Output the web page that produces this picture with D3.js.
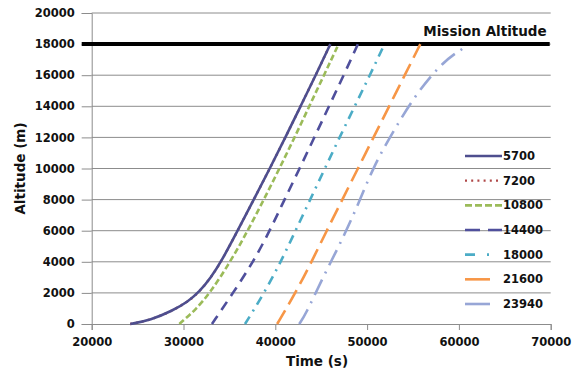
<!DOCTYPE html>
<html>
<head>
<meta charset="utf-8">
<script src="https://cdn.jsdelivr.net/npm/d3@7"></script>
<style>
  html, body { margin: 0; padding: 0; background: #fff; }
  svg { display: block; }
  text { font-family: "DejaVu Sans", "Liberation Sans", sans-serif; }
</style>
</head>
<body>
<svg id="chart" width="577" height="370"></svg>
<script>
// ---- data ----
const categories = ["5700", "7200", "10800", "14400", "18000", "21600", "23940"];

const time5700  = [24200, 26400, 28800, 30500, 31700, 33000, 34100, 35900, 37650, 39400, 41100, 42750, 44400, 46000];
const alt5700   = [0, 250, 850, 1450, 2050, 3000, 4000, 6000, 8000, 10000, 12000, 14000, 16000, 18000];

const time7200  = [24200, 26400, 28800, 30500, 31700, 33000, 34100, 35900, 37650, 39400, 41100, 42750, 44400, 46000];
const alt7200   = [0, 250, 850, 1450, 2050, 3000, 4000, 6000, 8000, 10000, 12000, 14000, 16000, 18000];

const time10800 = [29550, 30400, 31270, 32900, 35100, 37000, 38750, 40450, 42100, 43700, 45300, 46900];
const alt10800  = [0, 450, 900, 2000, 4000, 6000, 8000, 10000, 12000, 14000, 16000, 18000];

const time14400 = [33100, 35400, 37600, 39400, 41000, 42650, 44250, 45850, 47450, 49000];
const alt14400  = [0, 2000, 4000, 6000, 8000, 10000, 12000, 14000, 16000, 18000];

const time18000 = [36700, 38800, 40600, 42200, 43800, 45400, 47000, 48650, 50300, 51900];
const alt18000  = [0, 2000, 4000, 6000, 8000, 10000, 12000, 14000, 16000, 18000];

const time21600 = [40200, 42200, 43950, 45600, 47300, 49000, 50700, 52400, 54100, 55800];
const alt21600  = [0, 2000, 4000, 6000, 8000, 10000, 12000, 14000, 16000, 18000];

const time23940 = [42600, 43300, 45100, 47100, 48900, 50700, 53000, 55400, 58300, 60400];
const alt23940  = [0, 600, 2900, 5200, 7500, 10150, 12550, 14850, 16900, 17700];

const xTicks = [20000, 30000, 40000, 50000, 60000, 70000];
const yTicks = [0, 2000, 4000, 6000, 8000, 10000, 12000, 14000, 16000, 18000, 20000];
const missionAltitude = 18000;
const missionLabel = "Mission Altitude";
const xTitle = "Time (s)";
const yTitle = "Altitude (m)";

// ---- styles (kept separate from data) ----
const styles = {
  "5700":  { color: "#4e4e8e", dash: null,       legendDash: null,          width: 2.6 },
  "7200":  { color: "#b04848", dash: "2,4",      legendDash: "2,4.2",       width: 2.4 },
  "10800": { color: "#9bbb59", dash: "6,3",      legendDash: "7,3",         width: 2.6 },
  "14400": { color: "#4f4f9c", dash: "10,7",     legendDash: "15,8",        width: 2.6 },
  "18000": { color: "#4bacc6", dash: "9,6,2,6",  legendDash: "10,12,2,20",  width: 2.6 },
  "21600": { color: "#f79646", dash: "16,7",     legendDash: "25,20",       width: 2.6 },
  "23940": { color: "#97a6d6", dash: "17,7,2,7", legendDash: "25,20",       width: 2.6 }
};

const seriesTimes = [time5700, time7200, time10800, time14400, time18000, time21600, time23940];
const seriesAlts  = [alt5700, alt7200, alt10800, alt14400, alt18000, alt21600, alt23940];
const series = categories.map((c, i) => ({
  name: c,
  points: seriesTimes[i].map((t, j) => ({ t: t, a: seriesAlts[i][j] }))
}));

// ---- layout ----
const svg = d3.select("#chart");
const m = { left: 91.7, right: 26.3, top: 13, bottom: 46 };
const W = 577, H = 370;

const x = d3.scaleLinear().domain([20000, 70000]).range([m.left, W - m.right]);
const y = d3.scaleLinear().domain([0, 20000]).range([H - m.bottom, m.top]);

const tickFont = { size: "11.5px", weight: "bold" };

// gridlines
svg.append("g")
  .selectAll("line")
  .data(yTicks.filter(d => d > 0))
  .join("line")
  .attr("x1", x(20000)).attr("x2", x(70000))
  .attr("y1", d => y(d)).attr("y2", d => y(d))
  .attr("stroke", "#8c8c8c").attr("stroke-width", 1);

// y axis
const yAxis = svg.append("g")
  .attr("transform", `translate(${x(20000)},0)`)
  .call(d3.axisLeft(y).tickValues(yTicks).tickFormat(d3.format("d")).tickSize(10).tickPadding(7));
yAxis.select(".domain").attr("stroke", "#8c8c8c");
yAxis.selectAll(".tick line").attr("stroke", "#8c8c8c");
yAxis.selectAll("text")
  .attr("font-size", tickFont.size).attr("font-weight", tickFont.weight)
  .attr("fill", "#111").style("font-family", "DejaVu Sans");

// x axis
const xAxis = svg.append("g")
  .attr("transform", `translate(0,${y(0)})`)
  .call(d3.axisBottom(x).tickValues(xTicks).tickFormat(d3.format("d")).tickSize(6).tickPadding(8));
xAxis.select(".domain").attr("stroke", "#8c8c8c");
xAxis.selectAll(".tick line").attr("stroke", "#8c8c8c");
xAxis.selectAll("text")
  .attr("font-size", tickFont.size).attr("font-weight", tickFont.weight)
  .attr("fill", "#111").style("font-family", "DejaVu Sans");

// axis titles
svg.append("text")
  .attr("x", 317).attr("y", 366)
  .attr("text-anchor", "middle")
  .attr("font-size", "13.5px").attr("font-weight", "bold")
  .attr("fill", "#111")
  .text(xTitle);

svg.append("text")
  .attr("transform", `translate(25,${(y(0) + y(20000)) / 2}) rotate(-90)`)
  .attr("text-anchor", "middle")
  .attr("font-size", "13.5px").attr("font-weight", "bold")
  .attr("fill", "#111")
  .text(yTitle);

// mission altitude line
svg.append("line")
  .attr("x1", x(20000) - 10).attr("x2", x(70000) - 1)
  .attr("y1", y(missionAltitude)).attr("y2", y(missionAltitude))
  .attr("stroke", "#000").attr("stroke-width", 4);

svg.append("text")
  .attr("x", x(70000) - 4).attr("y", y(missionAltitude) - 8)
  .attr("text-anchor", "end")
  .attr("font-size", "13.5px").attr("font-weight", "bold")
  .attr("fill", "#111")
  .text(missionLabel);

// series lines (7200 drawn under 5700)
const line = d3.line().x(d => x(d.t)).y(d => y(d.a)).curve(d3.curveBasis);
const drawOrder = ["7200", "5700", "10800", "14400", "18000", "21600", "23940"];
svg.append("g")
  .selectAll("path")
  .data(drawOrder.map(n => series.find(s => s.name === n)))
  .join("path")
  .attr("d", d => line(d.points))
  .attr("fill", "none")
  .attr("stroke", d => styles[d.name].color)
  .attr("stroke-width", d => styles[d.name].width)
  .attr("stroke-dasharray", d => styles[d.name].dash)
  .attr("stroke-linecap", "butt");

// legend
const legendY = d3.scalePoint().domain(categories).range([156, 304]);
const lg = svg.append("g")
  .selectAll("g")
  .data(categories)
  .join("g")
  .attr("transform", d => `translate(465,${legendY(d)})`);
lg.append("line")
  .attr("x1", 0).attr("x2", 37).attr("y1", 0).attr("y2", 0)
  .attr("stroke", d => styles[d].color)
  .attr("stroke-width", d => styles[d].width)
  .attr("stroke-dasharray", d => styles[d].legendDash);
lg.append("text")
  .attr("x", 38).attr("y", 0).attr("dy", "0.36em")
  .attr("font-size", tickFont.size).attr("font-weight", "bold")
  .attr("fill", "#111")
  .text(d => d);
</script>
</body>
</html>
